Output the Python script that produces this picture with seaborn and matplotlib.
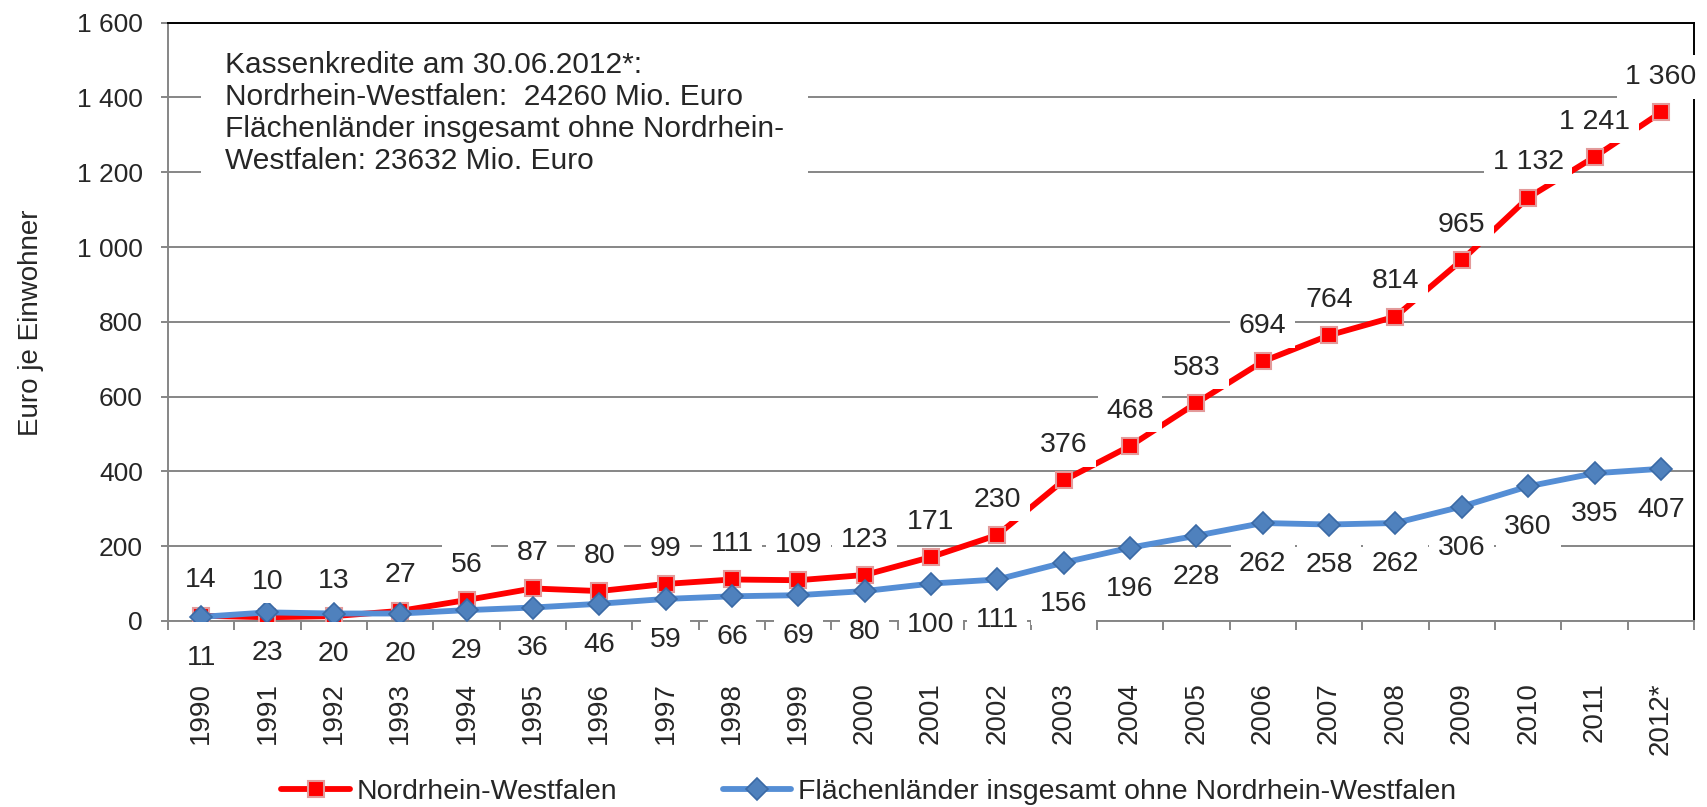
import numpy as np
import pandas as pd
import matplotlib
matplotlib.use("Agg")
import matplotlib.pyplot as plt
from matplotlib.ticker import FuncFormatter, FixedLocator
import seaborn as sns

years = ['1990', '1991', '1992', '1993', '1994', '1995', '1996', '1997', '1998',
         '1999', '2000', '2001', '2002', '2003', '2004', '2005', '2006', '2007',
         '2008', '2009', '2010', '2011', '2012*']
nrw = [14, 10, 13, 27, 56, 87, 80, 99, 111, 109, 123, 171, 230, 376, 468, 583,
       694, 764, 814, 965, 1132, 1241, 1360]
others = [11, 23, 20, 20, 29, 36, 46, 59, 66, 69, 80, 100, 111, 156, 196, 228,
          262, 258, 262, 306, 360, 395, 407]

name_nrw = 'Nordrhein-Westfalen'
name_oth = 'Flächenländer insgesamt ohne Nordrhein-Westfalen'
note = ('Kassenkredite am 30.06.2012*:\n'
        'Nordrhein-Westfalen:  24260 Mio. Euro\n'
        'Flächenländer insgesamt ohne Nordrhein-\n'
        'Westfalen: 23632 Mio. Euro')


def fmt(v):
    return '{:,}'.format(int(v)).replace(',', ' ')


sns.set_style('white')
plt.rcParams['font.family'] = ['Liberation Sans', 'DejaVu Sans']

df = pd.DataFrame({'pos': np.arange(len(years)), 'nrw': nrw, 'oth': others})

fig, ax = plt.subplots(figsize=(17.07, 8.07), dpi=100)
fig.subplots_adjust(left=0.0984, right=0.9924, top=0.9719, bottom=0.2305)

grey = '#868686'
red = '#FF0000'
blue = '#558ED5'

sns.lineplot(data=df, x='pos', y='nrw', ax=ax, color=red, lw=4.2, marker='s',
             markersize=11, markerfacecolor=red, markeredgecolor='#E39A9A',
             markeredgewidth=1.5, label=name_nrw, zorder=3)
sns.lineplot(data=df, x='pos', y='oth', ax=ax, color=blue, lw=4.2, marker='D',
             markersize=11, markerfacecolor='#4F81BD', markeredgecolor='#3A6AA6',
             markeredgewidth=1.2, label=name_oth, zorder=4)

ax.set_xlim(-0.5, len(years) - 0.5)
ax.set_ylim(0, 1600)
ax.set_yticks(np.arange(0, 1601, 200))
ax.yaxis.set_major_formatter(FuncFormatter(lambda v, p: fmt(v)))
ax.set_xticks(df['pos'])
ax.set_xticklabels(years, rotation=90)
ax.xaxis.set_minor_locator(FixedLocator(np.arange(-0.5, len(years), 1)))
ax.set_xlabel('')
ax.set_ylabel('')

ax.yaxis.grid(True, color=grey, lw=1.4)
ax.xaxis.grid(False)
ax.tick_params(axis='y', direction='out', length=5, width=1.4, color=grey,
               pad=13, labelsize=19, left=True)
ax.tick_params(axis='x', which='major', length=0, pad=44, labelsize=20)
ax.tick_params(axis='x', which='minor', direction='out', length=6.5, width=1.4,
               color=grey, bottom=True)
for side in ['left', 'bottom']:
    ax.spines[side].set_color(grey)
    ax.spines[side].set_linewidth(1.4)
for side in ['top', 'right']:
    ax.spines[side].set_color('black')
    ax.spines[side].set_linewidth(1.4)
    ax.spines[side].set_visible(True)

box = dict(boxstyle='square,pad=0.3', fc='white', ec='none')
for i, v in enumerate(nrw):
    ax.annotate(fmt(v), (i, v), xytext=(0, 25.5), textcoords='offset points',
                ha='center', va='center', fontsize=20.5, bbox=box, zorder=10,
                annotation_clip=False)
for i, v in enumerate(others):
    ax.annotate(fmt(v), (i, v), xytext=(0, -29.5), textcoords='offset points',
                ha='center', va='center', fontsize=20.5, bbox=box, zorder=10,
                annotation_clip=False)

ax.text(0.0374, 0.952, note, transform=ax.transAxes, ha='left', va='top',
        fontsize=21.5, linespacing=1.18, zorder=11,
        bbox=dict(boxstyle='square,pad=0.8', fc='white', ec='none'))

fig.text(0.018, 0.6, 'Euro je Einwohner', rotation=90, ha='center',
         va='center', fontsize=20)

handles, labels = ax.get_legend_handles_labels()
ax.get_legend().remove()
fig.legend(handles, labels, loc='center', bbox_to_anchor=(0.509, 0.0186),
           ncol=2, frameon=False, fontsize=20.5, handlelength=2.4,
           handletextpad=0.25, columnspacing=3.7)

plt.savefig('out.png', dpi=100)
plt.close()
